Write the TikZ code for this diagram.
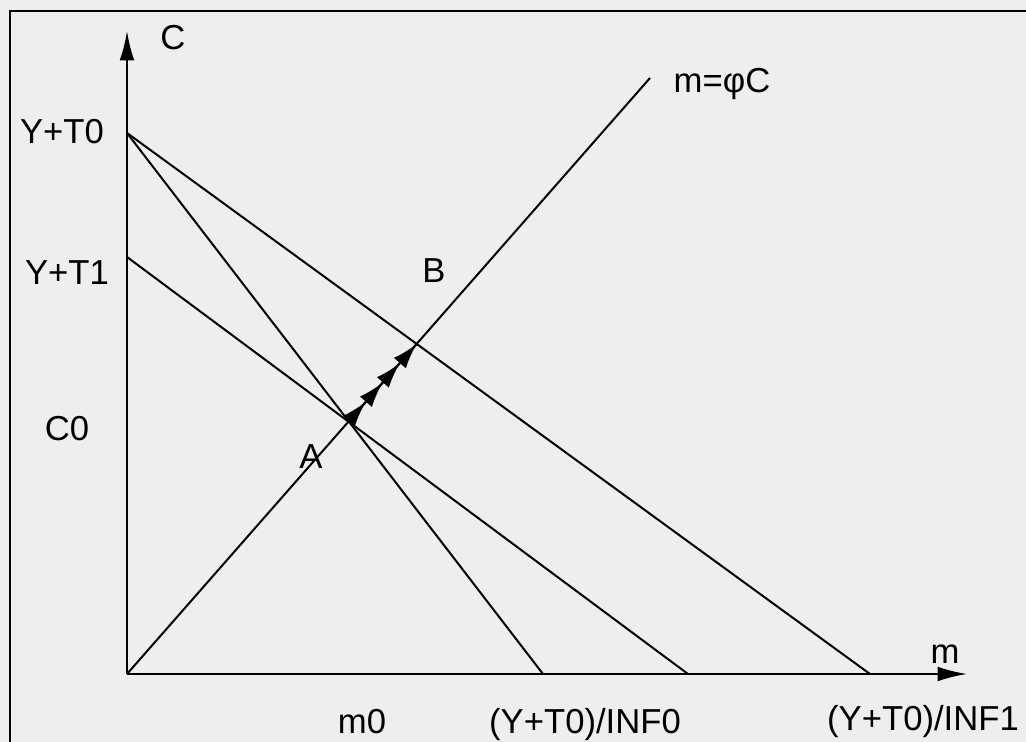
\documentclass[tikz,border=0pt]{standalone}
\usepackage{fontspec}
\setmainfont{Liberation Sans}
\usetikzlibrary{arrows.meta,decorations.markings,positioning}
\definecolor{paper}{RGB}{238,238,238}

\begin{document}
\begin{tikzpicture}[x=0.75pt,y=-0.75pt,
  font=\fontsize{26}{30}\selectfont,
  curve/.style={line width=1.5pt},
  axis/.style={line width=1.5pt,-{Latex[length=22pt,width=11pt]}},
  lbl/.style={inner sep=0pt,anchor=base},
  flow/.style={postaction={decorate},decoration={markings,
    mark=between positions 0.25 and 1 step 0.25 with {\arrow{Latex[length=19pt,width=12pt]}}}}]
  % paper and frame
  \fill[paper] (0,0) rectangle (1026,742);
  \useasboundingbox (0,0) rectangle (1026,742);
  \draw[line width=2.2pt] (10,742) -- (10,11) -- (1026,11);
  % ---- key points
  \coordinate (O) at (127,674);
  \coordinate (Ctop) at (127,31);
  \coordinate (Mend) at (967,674);
  \coordinate (YT0) at (127,133);
  \coordinate (YT1) at (127,257);
  \coordinate (I0) at (543,674);
  \coordinate (I1) at (688,674);
  \coordinate (I2) at (870,674);
  \coordinate (R) at (650,78);
  % ---- axes
  \draw[axis] (O) -- (Ctop);
  \draw[axis] (O) -- (Mend);
  % ---- budget lines and the ray
  \draw[curve] (YT0) -- (I0);
  \draw[curve] (YT0) -- (I2);
  \draw[curve] (YT1) -- (I1);
  \draw[curve] (O) -- (R);
  \coordinate (A) at (intersection of YT0--I0 and O--R);
  \coordinate (B) at (intersection of YT0--I2 and O--R);
  \draw[curve,flow] (A) -- (B);
  % ---- labels
  \node[lbl] (lC) at (173,50) {C};
  \node[lbl] (lYT0) at (62,143) {Y+T0};
  \node[lbl] (lYT1) at (67,284) {Y+T1};
  \node[lbl] (lC0) at (67,440) {C0};
  \node[lbl] (lA) at (311,468) {A};
  \node[lbl] (lB) at (434,282) {B};
  \node[lbl] (lray) at (722,93) {m=φC};
  \node[lbl] (lm) at (945,663) {m};
  \node[lbl] (lm0) at (362,733) {m0};
  \node[lbl] (lI0) at (585,733) {(Y+T0)/INF0};
  \node[lbl] (lI1) at (923,730) {(Y+T0)/INF1};
\end{tikzpicture}
\end{document}
